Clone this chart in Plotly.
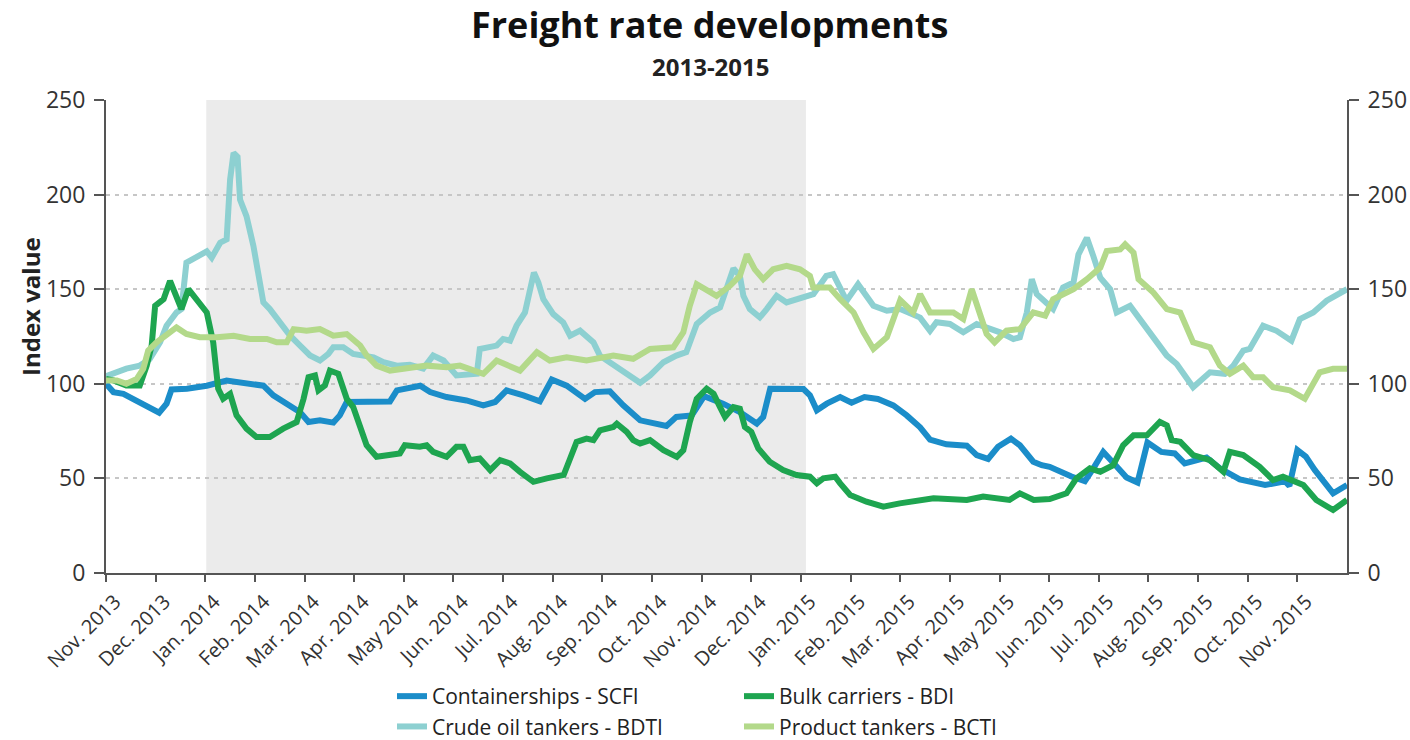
import plotly.graph_objects as go

# ---- data (x = months since Nov. 2013) ----
month_labels = ["Nov. 2013", "Dec. 2013", "Jan. 2014", "Feb. 2014", "Mar. 2014", "Apr. 2014",
                "May 2014", "Jun. 2014", "Jul. 2014", "Aug. 2014", "Sep. 2014", "Oct. 2014",
                "Nov. 2014", "Dec. 2014", "Jan. 2015", "Feb. 2015", "Mar. 2015", "Apr. 2015",
                "May 2015", "Jun. 2015", "Jul. 2015", "Aug. 2015", "Sep. 2015", "Oct. 2015",
                "Nov. 2015"]
month_pos = list(range(len(month_labels)))

scfi_m = [0, 0.15, 0.35, 0.55, 0.82, 1.07, 1.22, 1.32, 1.63, 2.03,
          2.43, 2.77, 3.17, 3.37, 3.64, 3.91, 4.08, 4.31, 4.58, 4.71,
          4.85, 5.25, 5.72, 5.86, 6.15, 6.33, 6.53, 6.86, 7.26, 7.6,
          7.84, 8.07, 8.41, 8.74, 8.98, 9.28, 9.65, 9.85, 10.15, 10.42,
          10.76, 11.09, 11.29, 11.49, 11.8, 12.05, 12.43, 12.77, 13.11, 13.24,
          13.38, 14.05, 14.18, 14.32, 14.52, 14.79, 15.02, 15.28, 15.55, 15.86,
          16.13, 16.4, 16.6, 16.93, 17.34, 17.54, 17.77, 17.97, 18.23, 18.41,
          18.68, 18.85, 19.01, 19.45, 19.72, 19.89, 20.09, 20.3, 20.56, 20.78,
          20.98, 21.26, 21.53, 21.73, 22.17, 22.44, 22.84, 23.35, 23.75, 23.84,
          24.0, 24.17, 24.35, 24.72, 25.0]
scfi_v = [100, 95.6, 94.7, 92, 87.7, 84.7, 89.5, 97, 97.4, 99,
          101.7, 100.5, 99, 93.9, 89.5, 85, 79.8, 80.7, 79.5, 83.3,
          90.4, 90.7, 90.7, 96.5, 98.5, 99, 95.6, 93, 91.2, 88.6,
          90.4, 96.5, 93.9, 90.7, 102.3, 99, 92, 95.6, 96, 88.6,
          80.7, 78.4, 77.7, 82.5, 83.3, 93.5, 89.5, 85, 79, 82.5,
          97.4, 97.2, 93.9, 86, 89.5, 93, 90, 93, 92, 88.6,
          83.3, 77, 70.5, 68, 67.3, 62.3, 60.3, 66.7, 71, 67.5,
          58.8, 57, 56.1, 51, 48.5, 55.3, 64, 58, 50.5, 47.8,
          69, 64, 63.2, 57.9, 61, 55.3, 49.5, 46.5, 48.5, 46,
          65, 61.5, 54.5, 42.1, 46.5]

bdti_m = [0, 0.41, 0.68, 0.88, 1.09, 1.22, 1.42, 1.52, 1.62, 1.89,
          2.03, 2.13, 2.3, 2.43, 2.5, 2.57, 2.65, 2.7, 2.83, 2.97,
          3.1, 3.17, 3.3, 3.5, 3.71, 3.91, 4.11, 4.31, 4.48, 4.58,
          4.78, 4.98, 5.12, 5.39, 5.59, 5.86, 6.12, 6.39, 6.59, 6.8,
          7.06, 7.47, 7.53, 7.87, 8.0, 8.14, 8.27, 8.44, 8.62, 8.71,
          8.81, 9.01, 9.21, 9.35, 9.55, 9.82, 9.95, 10.15, 10.42, 10.76,
          10.96, 11.23, 11.49, 11.69, 11.9, 12.17, 12.37, 12.5, 12.64, 12.77,
          12.84, 12.97, 13.17, 13.31, 13.51, 13.71, 13.98, 14.25, 14.51, 14.65,
          14.92, 15.15, 15.46, 15.73, 16.0, 16.4, 16.6, 16.73, 17.0, 17.27,
          17.54, 17.81, 18.01, 18.28, 18.41, 18.55, 18.65, 18.75, 18.95, 19.08,
          19.28, 19.49, 19.59, 19.76, 19.89, 20.03, 20.23, 20.36, 20.63, 20.83,
          21.1, 21.37, 21.57, 21.9, 22.24, 22.54, 22.71, 22.91, 23.04, 23.31,
          23.58, 23.88, 24.05, 24.32, 24.59, 25.0]
bdti_v = [104, 108, 109.6, 113, 122, 130.7, 137.7, 139.5, 164, 168.4,
          170, 166.7, 174.6, 176.3, 207.9, 222, 220, 197.4, 188.6, 172.8,
          155.3, 143, 139.5, 132.5, 125.4, 120.2, 115, 112.3, 115.8, 119.3,
          119.3, 115.8, 115, 114, 111.4, 109.6, 110, 108, 114.9, 112.3,
          104.4, 105.3, 118.4, 120.2, 123.7, 122.8, 130.7, 137.7, 158.8, 153.5,
          144.7, 136.8, 132.5, 125.4, 128.1, 121.9, 114.9, 111.4, 106.1, 100.5,
          104.4, 111.4, 114.9, 116.7, 131.6, 137.7, 140.4, 150, 161, 157,
          146.5, 139.5, 135.1, 139.5, 146.5, 143, 145.6, 147.4, 157, 157.9,
          143.9, 152.6, 141.2, 138.6, 139.5, 135, 128, 132.5, 131.6, 127.2,
          131.6, 129, 127.2, 123.7, 124.6, 137.7, 155.3, 147.4, 143, 139.5,
          150.9, 153.5, 168.4, 177.2, 167.5, 156.1, 150, 137.7, 141.2, 134.2,
          123.7, 114.9, 110.5, 98.2, 106.1, 105.3, 109.6, 117.5, 118.4, 130.7,
          128, 122.8, 134.2, 137.7, 143.9, 150]

bdi_m = [0, 0.15, 0.41, 0.68, 0.82, 0.92, 0.99, 1.16, 1.29, 1.39,
         1.52, 1.66, 1.83, 2.03, 2.16, 2.26, 2.36, 2.5, 2.63, 2.83,
         3.03, 3.3, 3.57, 3.84, 3.98, 4.08, 4.21, 4.28, 4.41, 4.51,
         4.68, 4.85, 4.98, 5.15, 5.25, 5.45, 5.72, 5.92, 6.02, 6.32,
         6.46, 6.59, 6.86, 7.06, 7.2, 7.33, 7.53, 7.74, 7.94, 8.14,
         8.34, 8.61, 8.88, 9.22, 9.35, 9.48, 9.68, 9.82, 9.95, 10.22,
         10.29, 10.49, 10.62, 10.76, 10.96, 11.23, 11.5, 11.63, 11.76, 11.9,
         12.1, 12.24, 12.37, 12.47, 12.64, 12.77, 12.87, 13.0, 13.14, 13.37,
         13.64, 13.91, 14.18, 14.32, 14.45, 14.69, 14.79, 14.99, 15.32, 15.66,
         15.99, 16.67, 17.34, 17.67, 18.2, 18.41, 18.69, 19.01, 19.35, 19.55,
         19.82, 20.03, 20.29, 20.49, 20.7, 20.97, 21.23, 21.37, 21.47, 21.64,
         21.9, 22.24, 22.51, 22.64, 22.91, 23.24, 23.51, 23.71, 24.12, 24.38,
         24.72, 25.0]
bdi_v = [102.6, 101.8, 99.1, 99.1, 109.6, 120.2, 141.2, 144.7, 154.4, 148.2,
         139.5, 150, 144.7, 137.7, 121.9, 97.4, 92.1, 94.7, 83.3, 76.3,
         71.9, 71.9, 76.3, 79.8, 92.1, 103.5, 104.4, 96.5, 99.1, 107,
         105.3, 92.1, 87.7, 74.6, 67.5, 61.4, 62.3, 63.2, 67.5, 66.7,
         67.5, 64, 61.4, 66.7, 66.7, 59.6, 60.5, 54.4, 59.6, 57.9,
         53.5, 48.2, 50, 51.8, 60.5, 69.3, 71, 70.2, 75.4, 77.2,
         78.9, 74.6, 70.2, 68.4, 70.2, 64.9, 61.4, 64.9, 79.8, 92.1,
         97.4, 94.7, 87.7, 82.5, 87.7, 86.8, 77.2, 74.6, 65.8, 58.8,
         54.4, 51.8, 50.9, 47.4, 50, 50.9, 47.4, 41.2, 37.7, 35.1,
         36.8, 39.5, 38.6, 40.4, 38.6, 42.1, 38.6, 39.1, 42.1, 50,
         55.3, 53.5, 57, 67.5, 72.8, 72.8, 79.8, 78, 70.2, 69.3,
         62.3, 59.6, 53.5, 64, 62.3, 56.1, 49.1, 50.9, 46.5, 38.6,
         33.3, 38.6]

bcti_m = [0, 0.22, 0.41, 0.62, 0.75, 0.85, 1.02, 1.22, 1.42, 1.62,
          1.89, 2.23, 2.57, 2.9, 3.24, 3.44, 3.64, 3.78, 4.04, 4.31,
          4.58, 4.85, 5.12, 5.25, 5.45, 5.72, 6.06, 6.46, 6.86, 7.13,
          7.6, 7.87, 8.34, 8.68, 8.94, 9.28, 9.68, 10.22, 10.62, 10.96,
          11.43, 11.63, 11.76, 11.9, 12.3, 12.57, 12.77, 12.91, 13.07, 13.24,
          13.44, 13.71, 13.98, 14.18, 14.25, 14.58, 14.79, 15.06, 15.26, 15.46,
          15.73, 16.0, 16.26, 16.4, 16.6, 17.07, 17.27, 17.44, 17.74, 17.9,
          18.14, 18.41, 18.68, 18.92, 19.08, 19.49, 19.76, 20.03, 20.16, 20.43,
          20.53, 20.7, 20.8, 21.1, 21.37, 21.64, 21.9, 22.24, 22.44, 22.64,
          22.91, 23.11, 23.31, 23.51, 23.85, 24.15, 24.45, 24.72, 25.0]
bcti_v = [101.8, 101.8, 100, 102.6, 107.9, 117.5, 121.9, 126.3, 129.8, 126.3,
          124.6, 124.6, 125.4, 123.7, 123.7, 121.9, 121.9, 128.9, 128.1, 128.9,
          125.4, 126.3, 120.2, 115, 109.6, 107, 107.9, 109.6, 108.8, 109.6,
          105.3, 112.3, 107, 116.7, 112.3, 114, 112.3, 114.9, 113.2, 118.4,
          119.3, 127.2, 141.2, 152.6, 146.5, 151.8, 157, 168.4, 160.5, 155.3,
          160.5, 162.3, 160.5, 157, 150.9, 150.9, 144.7, 137.7, 127.2, 118.4,
          124.6, 144.2, 137.7, 147.4, 137.7, 137.7, 134.2, 150, 126.3, 121.9,
          128.1, 128.9, 137.7, 136, 144.7, 150, 155.3, 161.4, 170.2, 171,
          173.7, 169.3, 155.3, 148.2, 139.5, 137.7, 121.9, 119.3, 109.6, 105.3,
          109.6, 103.5, 103.5, 98.2, 96.5, 92.1, 106.1, 107.9, 107.9]

shade_start, shade_end = 2.02, 14.1   # highlighted period (2014)
y_ticks = [0, 50, 100, 150, 200, 250]

# ---- styling ----
FONT = "Open Sans"
C_SCFI, C_BDTI, C_BDI, C_BCTI = "#1b8dc9", "#8dd0d1", "#1ea550", "#b3d98a"
AX = "#555555"
LW = 6

fig = go.Figure()
fig.add_trace(go.Scatter(x=scfi_m, y=scfi_v, mode="lines", name="Containerships - SCFI",
                         line=dict(color=C_SCFI, width=LW), legend="legend"))
fig.add_trace(go.Scatter(x=bdti_m, y=bdti_v, mode="lines", name="Crude oil tankers - BDTI",
                         line=dict(color=C_BDTI, width=LW), legend="legend"))
fig.add_trace(go.Scatter(x=bdi_m, y=bdi_v, mode="lines", name="Bulk carriers - BDI",
                         line=dict(color=C_BDI, width=LW), legend="legend2"))
fig.add_trace(go.Scatter(x=bcti_m, y=bcti_v, mode="lines", name="Product tankers - BCTI",
                         line=dict(color=C_BCTI, width=LW), legend="legend2", yaxis="y2"))

fig.add_shape(type="rect", xref="x", yref="y", x0=shade_start, x1=shade_end, y0=0, y1=250,
              fillcolor="#ebebeb", line=dict(width=0), layer="below")

yax = dict(range=[0, 250], tickvals=y_ticks, showline=True, linecolor=AX, linewidth=2,
           ticks="outside", ticklen=10, tickwidth=2, tickcolor=AX, zeroline=False,
           automargin=False, ticklabelstandoff=4,
           tickfont=dict(family=FONT, size=23, color="#333333"))

PW, PH, PL, PB = 1241, 473, 106, 573  # plot-area size / origin in px (for text placement)

fig.update_layout(
    width=1410, height=740,
    margin=dict(l=106, r=63, t=100, b=167, autoexpand=False),
    paper_bgcolor="white", plot_bgcolor="white",
    font=dict(family=FONT, color="#222222"),
    xaxis=dict(range=[0, 25], tickvals=month_pos, ticktext=month_labels, tickangle=-45,
               showline=True, linecolor=AX, linewidth=2, ticks="outside", ticklen=7,
               tickwidth=2, tickcolor=AX, showgrid=False, zeroline=False, automargin=False,
               ticklabelshift=9,
               tickfont=dict(family=FONT, size=20, color="#333333")),
    yaxis=dict(**yax, showgrid=True, gridcolor="#c6c6c6", gridwidth=1.5, griddash="4px,5px"),
    yaxis2=dict(**yax, overlaying="y", side="right", anchor="x", showgrid=False),
    legend=dict(x=(392 - PL) / PW, y=(PB - 676) / PH,
                xanchor="left", yanchor="top", font=dict(family=FONT, size=21, color="#222222"),
                bgcolor="rgba(0,0,0,0)", tracegroupgap=0, itemwidth=30),
    legend2=dict(x=(739 - PL) / PW, y=(PB - 676) / PH,
                 xanchor="left", yanchor="top", font=dict(family=FONT, size=21, color="#222222"),
                 bgcolor="rgba(0,0,0,0)", tracegroupgap=0, itemwidth=30),
    showlegend=True,
    annotations=[
        dict(text="<b>Freight rate developments</b>", xref="paper", yref="paper",
             x=(709 - PL) / PW, y=(PB - 25) / PH, xanchor="center", yanchor="middle",
             showarrow=False, font=dict(family=FONT, size=36, color="#111111")),
        dict(text="<b>2013-2015</b>", xref="paper", yref="paper",
             x=(711 - PL) / PW, y=(PB - 66) / PH, xanchor="center", yanchor="middle",
             showarrow=False, font=dict(family=FONT, size=24, color="#222222")),
        dict(text="<b>Index value</b>", xref="paper", yref="paper",
             x=(30 - PL) / PW, y=(PB - 307) / PH, xanchor="center", yanchor="middle",
             textangle=-90, showarrow=False, font=dict(family=FONT, size=24, color="#222222")),
    ],
)

fig.write_html("out.html", config={"displayModeBar": False},
               post_script="document.body.style.margin='0px';")
